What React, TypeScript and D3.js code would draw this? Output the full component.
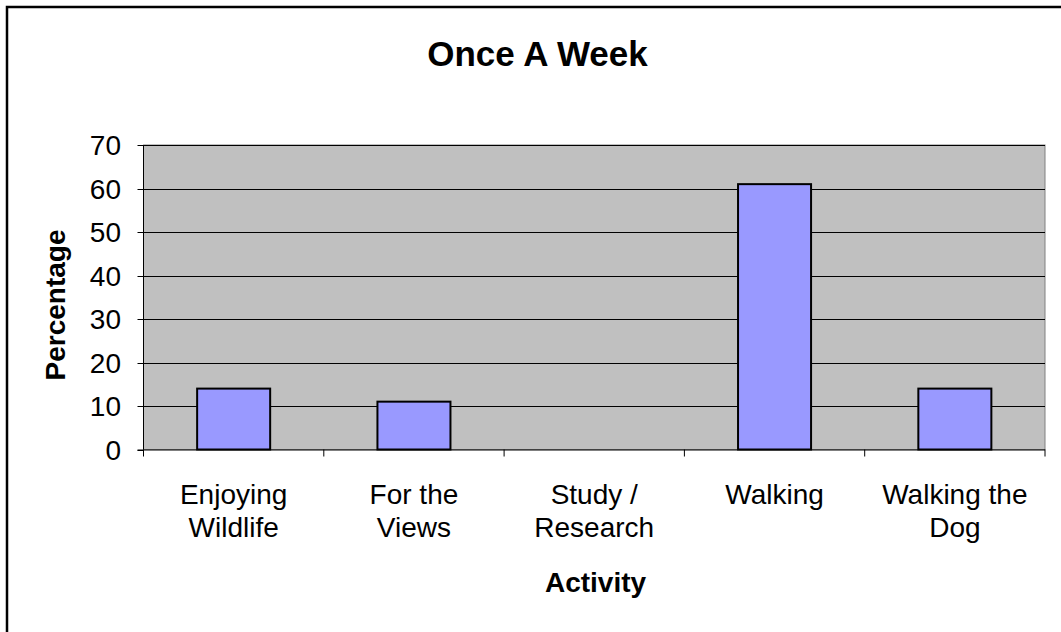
import React from "react";
import * as d3 from "d3";

const categories: string[][] = [
  ["Enjoying", "Wildlife"],
  ["For the", "Views"],
  ["Study /", "Research"],
  ["Walking"],
  ["Walking the", "Dog"],
];
const values: number[] = [14, 11, 0, 61, 14];
const yTicks: number[] = [0, 10, 20, 30, 40, 50, 60, 70];
const title = "Once A Week";
const xTitle = "Activity";
const yTitle = "Percentage";

export default function App() {
  const W = 1061, H = 632;
  const left = 143.5, right = 1045, top = 145, bottom = 449.5;
  const x = d3.scaleBand<number>().domain(d3.range(values.length)).range([left, right]).paddingInner(0.595).paddingOuter(0.2975);
  const xb = d3.scaleBand<number>().domain(d3.range(values.length)).range([left, right]);
  const y = d3.scaleLinear().domain([0, 70]).range([bottom, top]);
  const font = "'Liberation Sans', Arial, sans-serif";
  return (
    <svg width={W} height={H} style={{ position: "absolute", left: 0, top: 0, background: "#fff" }} fontFamily={font}>
      <rect x={7} y={7} width={W + 10} height={H + 10} fill="#fff" stroke="#000" strokeWidth={2.5} />
      <rect x={left} y={top} width={right - left} height={bottom - top} fill="#C0C0C0" stroke="#808080" strokeWidth={1} />
      {yTicks.filter(t => t > 0).map(t => (
        <line key={t} x1={left} x2={right} y1={Math.round(y(t)) + 0.5} y2={Math.round(y(t)) + 0.5} stroke="#000" strokeWidth={1} />
      ))}
      {values.map((v, i) => (
        <rect key={i} x={x(i)!} y={y(v)} width={x.bandwidth()} height={bottom - y(v)} fill="#9999FF" stroke="#000" strokeWidth={2} />
      ))}
      <line x1={left} x2={left} y1={top} y2={bottom} stroke="#000" strokeWidth={1} />
      <line x1={left - 6} x2={right} y1={bottom + 0.5} y2={bottom + 0.5} stroke="#000" strokeWidth={1} />
      {yTicks.map(t => (
        <g key={t}>
          <line x1={left - 6} x2={left} y1={Math.round(y(t)) + 0.5} y2={Math.round(y(t)) + 0.5} stroke="#000" />
          <text x={121} y={y(t)} dy="0.36em" textAnchor="end" fontSize={28}>{t}</text>
        </g>
      ))}
      {d3.range(values.length + 1).map(i => {
        const xx = i < values.length ? xb(i)! : right;
        return <line key={i} x1={xx} x2={xx} y1={bottom} y2={bottom + 7} stroke="#000" />;
      })}
      {categories.map((lines, i) => (
        <text key={i} x={xb(i)! + xb.bandwidth() / 2} y={504} textAnchor="middle" fontSize={28}>
          {lines.map((l, j) => (
            <tspan key={j} x={xb(i)! + xb.bandwidth() / 2} dy={j === 0 ? 0 : 33}>{l}</tspan>
          ))}
        </text>
      ))}
      <text x={537.5} y={66} textAnchor="middle" fontSize={35} fontWeight="bold">{title}</text>
      <text x={595.5} y={592} textAnchor="middle" fontSize={28} fontWeight="bold">{xTitle}</text>
      <text transform={`translate(65,305) rotate(-90)`} textAnchor="middle" fontSize={28} fontWeight="bold">{yTitle}</text>
    </svg>
  );
}
